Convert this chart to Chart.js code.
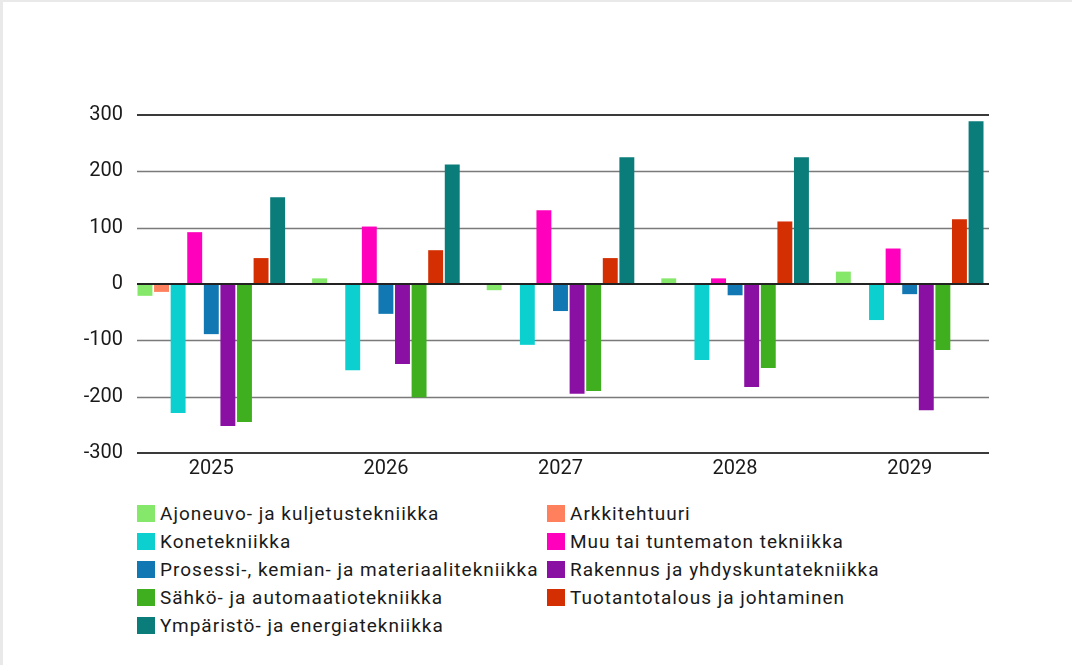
<!DOCTYPE html>
<html>
<head>
<meta charset="utf-8">
<script src="https://cdn.jsdelivr.net/npm/chart.js@4"></script>
<style>
    html, body { margin: 0; padding: 0; }
    body { width: 1072px; height: 665px; background: #e9e9e9; position: relative; overflow: hidden; }
    #sheet { position: absolute; left: 3px; top: 2px; right: 0; bottom: 0; background: #fff; }
    #wrap { position: absolute; left: 0; top: 0; width: 1072px; height: 490px; }
    #legend { position: absolute; left: 137px; top: 499px; display: grid;
              grid-template-columns: 410px auto; grid-auto-rows: 28.2px;
              font-family: Roboto, sans-serif; font-size: 19px; letter-spacing: 1px; color: #1a1a1a; }
    #legend .item { display: flex; align-items: center; white-space: nowrap; }
    #legend .box { width: 18px; height: 17px; margin-right: 5px; flex: none; }
</style>
</head>
<body>
<div id="sheet"></div>
<div id="wrap"><canvas id="chart" width="1072" height="490"></canvas></div>
<div id="legend"></div>
<script>
// years on the x axis
const years = ['2025', '2026', '2027', '2028', '2029'];

// series, in legend order
const seriesNames = [
    'Ajoneuvo- ja kuljetustekniikka',
    'Arkkitehtuuri',
    'Konetekniikka',
    'Muu tai tuntematon tekniikka',
    'Prosessi-, kemian- ja materiaalitekniikka',
    'Rakennus ja yhdyskuntatekniikka',
    'Sähkö- ja automaatiotekniikka',
    'Tuotantotalous ja johtaminen',
    'Ympäristö- ja energiatekniikka'
];
const seriesColors = ['#86e86a', '#ff805c', '#0cd0cf', '#ff00bd', '#1278b4',
                      '#8a10a4', '#3faf1f', '#d42f02', '#0a7d7b'];

const ajoneuvo = [-21, 10, -11, 10, 22];
const arkkitehtuuri = [-14, 0, 0, 0, 0];
const kone = [-229, -153, -108, -135, -64];
const muu = [92, 102, 131, 10, 63];
const prosessi = [-89, -53, -48, -20, -18];
const rakennus = [-252, -142, -195, -183, -224];
const sahko = [-245, -201, -190, -149, -117];
const tuotanto = [46, 60, 46, 111, 115];
const ymparisto = [154, 212, 225, 225, 289];

const yTicks = [-300, -200, -100, 0, 100, 200, 300];

const seriesValues = [ajoneuvo, arkkitehtuuri, kone, muu, prosessi, rakennus, sahko, tuotanto, ymparisto];

// horizontal grid lines, drawn narrower than the category band
const gridLines = {
    id: 'gridLines',
    beforeDatasetsDraw(chart) {
        const ctx = chart.ctx;
        const y = chart.scales.y;
        ctx.save();
        yTicks.forEach(function (v) {
            if (v === 0) return;
            const py = Math.round(y.getPixelForValue(v));
            const edge = (v === 300 || v === -300);
            ctx.strokeStyle = edge ? '#3a3a3a' : '#7a7a7a';
            ctx.lineWidth = edge ? 2 : 1.3;
            ctx.beginPath();
            ctx.moveTo(137, edge ? py : py + 0.5);
            ctx.lineTo(989, edge ? py : py + 0.5);
            ctx.stroke();
        });
        ctx.restore();
    },
    afterDatasetsDraw(chart) {
        const ctx = chart.ctx;
        const py = Math.round(chart.scales.y.getPixelForValue(0));
        ctx.save();
        ctx.strokeStyle = '#222';
        ctx.lineWidth = 2;
        ctx.beginPath();
        ctx.moveTo(137, py);
        ctx.lineTo(989, py);
        ctx.stroke();
        ctx.restore();
    }
};

const chart = new Chart(document.getElementById('chart').getContext('2d'), {
    type: 'bar',
    data: {
        labels: years,
        datasets: seriesNames.map(function (name, i) {
            return {
                label: name,
                data: seriesValues[i],
                backgroundColor: seriesColors[i],
                borderWidth: 0,
                categoryPercentage: 0.855,
                barPercentage: 0.9
            };
        })
    },
    plugins: [gridLines],
    options: {
        responsive: false,
        animation: false,
        layout: { padding: { left: 0, right: 75, top: 115, bottom: 7 } },
        plugins: {
            legend: { display: false },
            tooltip: { enabled: false }
        },
        scales: {
            x: {
                grid: { display: false, drawTicks: false },
                border: { display: false },
                ticks: { color: '#1a1a1a', padding: 4, font: { family: 'Roboto', size: 20 } },
                afterFit: function (s) { s.height = 30; }
            },
            y: {
                min: -300,
                max: 300,
                grid: { display: false, drawTicks: false },
                border: { display: false },
                ticks: {
                    stepSize: 100,
                    padding: 1,
                    color: '#1a1a1a',
                    font: { family: 'Roboto', size: 20 }
                },
                afterFit: function (s) { s.width = 124; }
            }
        }
    }
});

// two-column legend below the chart
const legendEl = document.getElementById('legend');
chart.data.datasets.forEach(function (ds) {
    const item = document.createElement('div');
    item.className = 'item';
    const box = document.createElement('span');
    box.className = 'box';
    box.style.background = ds.backgroundColor;
    const txt = document.createElement('span');
    txt.textContent = ds.label;
    item.appendChild(box);
    item.appendChild(txt);
    legendEl.appendChild(item);
});
</script>
</body>
</html>
